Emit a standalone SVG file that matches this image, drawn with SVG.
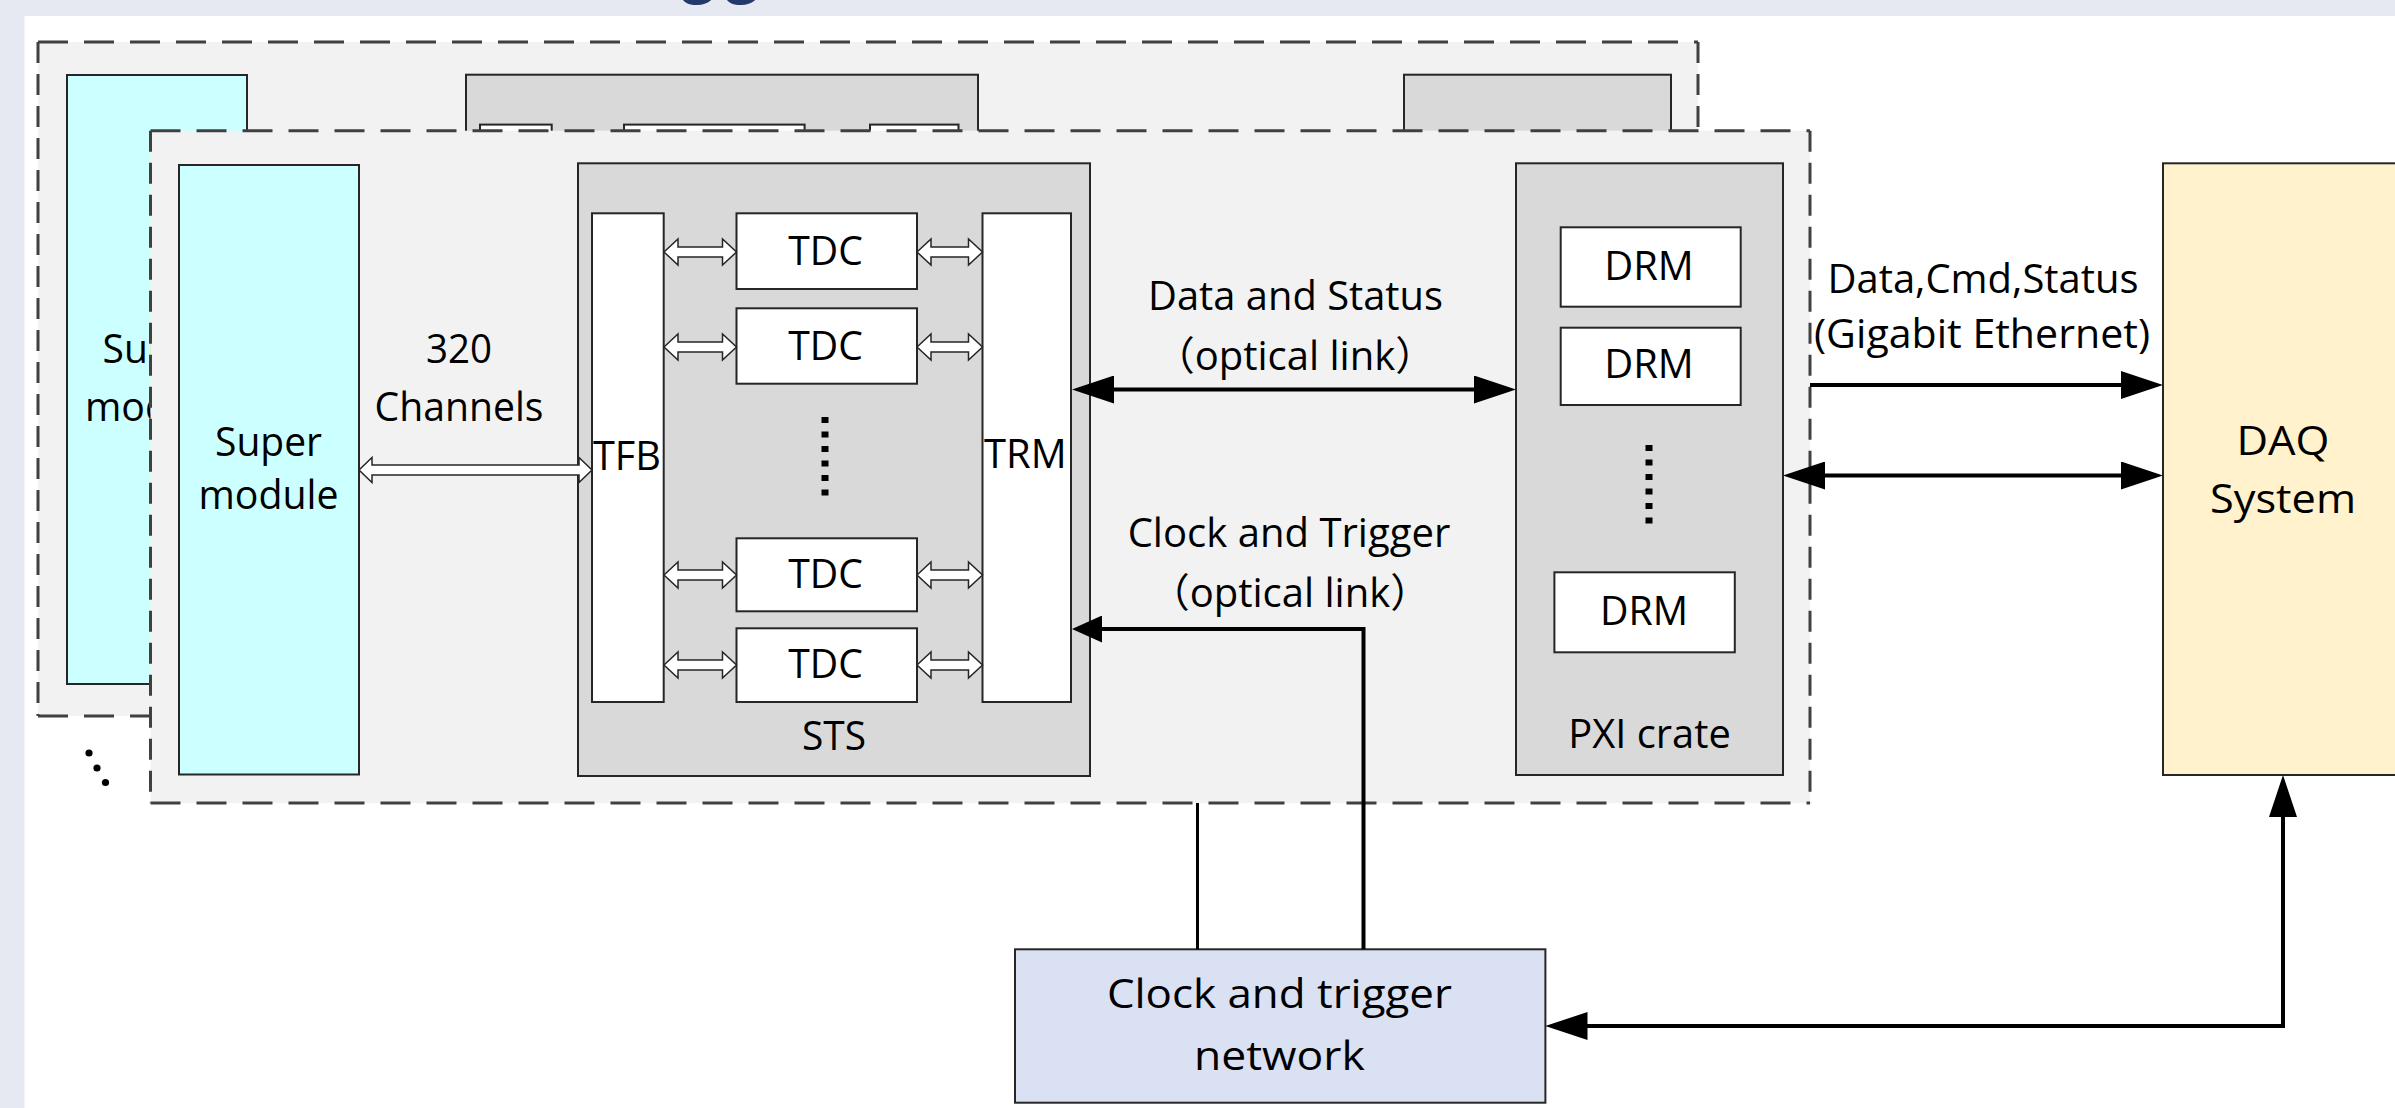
<svg xmlns="http://www.w3.org/2000/svg" width="2395" height="1108" viewBox="0 0 2395 1108">
<style>
.t{font-family:"Open Sans","Noto Sans CJK SC",sans-serif;font-size:40px;fill:#000;text-anchor:middle}
.b{stroke:#262626;stroke-width:2}
.cyan{fill:#CCFFFF}
.grey{fill:#D9D9D9}
.white{fill:#FFFFFF}
.panel{fill:#F2F2F2}
.dh{stroke:#404040;stroke-width:3;stroke-dasharray:30 16;fill:none}
.dv{stroke:#404040;stroke-width:3;stroke-dasharray:21 11;fill:none}
.hollow{fill:#fff;stroke:#262626;stroke-width:1.5}
.ln{fill:none;stroke:#000;stroke-width:4}
.ln3{fill:none;stroke:#000;stroke-width:3}
.dots{stroke:#000;stroke-width:7;stroke-dasharray:6 8.5;fill:none}
</style>
<defs>
<marker id="ah" markerUnits="userSpaceOnUse" markerWidth="42" markerHeight="28" viewBox="0 0 42 28" refX="32" refY="14" orient="auto-start-reverse"><path d="M0,0 L42,14 L0,28 Z" fill="#000"/></marker>
<marker id="ahs" markerUnits="userSpaceOnUse" markerWidth="30" markerHeight="27" viewBox="0 0 30 27" refX="20" refY="13.5" orient="auto-start-reverse"><path d="M0,0 L30,13.5 L0,27 Z" fill="#000"/></marker>
<path id="hsA" d="M0,0 L14,-13 L14,-5 L58.5,-5 L58.5,-13 L72.5,0 L58.5,13 L58.5,5 L14,5 L14,13 Z"/>
<path id="hsB" d="M0,0 L14,-13 L14,-5 L51.5,-5 L51.5,-13 L65.5,0 L51.5,13 L51.5,5 L14,5 L14,13 Z"/>
</defs>

<!-- page background -->
<rect x="0" y="0" width="2395" height="1108" fill="#E6E9F2"/>
<rect x="24.5" y="16" width="2371" height="1092" fill="#FFFFFF"/>
<text x="676" y="-10" font-family="Liberation Sans, sans-serif" font-weight="bold" font-size="72" fill="#23386B">gg</text>

<!-- back panel -->
<g id="back-panel">
  <rect x="38" y="42" width="1660" height="674" class="panel"/>
  <path class="dh" d="M38,42 H1698 M38,716 H1698"/>
  <path class="dv" d="M38,42 V716 M1698,42 V716"/>
  <g id="back-supermodule">
    <rect x="67" y="75" width="180" height="609" class="cyan b"/>
    <text class="t" x="156" y="363" textLength="107" lengthAdjust="spacingAndGlyphs">Super</text>
    <text class="t" x="155" y="421" textLength="140" lengthAdjust="spacingAndGlyphs">module</text>
  </g>
  <g id="back-sts">
    <rect x="466" y="74.7" width="512" height="613" class="grey b"/>
    <rect x="480" y="124.6" width="71.7" height="488.7" class="white b"/>
    <rect x="624" y="124.6" width="180.6" height="75.7" class="white b"/>
    <rect x="870" y="124.6" width="88.5" height="488.7" class="white b"/>
  </g>
  <g id="back-pxi">
    <rect x="1404" y="74.7" width="267" height="612" class="grey b"/>
  </g>
</g>
<g id="more-dots" fill="#000">
  <circle cx="89" cy="753" r="3.6"/>
  <circle cx="97" cy="768" r="3.6"/>
  <circle cx="105.5" cy="782.5" r="3.6"/>
</g>

<!-- front panel -->
<g id="front-panel">
  <rect x="150.5" y="130.7" width="1659.5" height="672.3" class="panel"/>
  <path class="dh" d="M150.5,130.7 H1810 M150.5,803 H1810"/>
  <path class="dv" d="M150.5,130.7 V803 M1810,130.7 V803"/>
</g>

<g id="supermodule">
  <rect x="179" y="165" width="180" height="609.5" class="cyan b"/>
  <text class="t" x="268.5" y="456" textLength="107" lengthAdjust="spacingAndGlyphs">Super</text>
  <text class="t" x="268.5" y="509" textLength="140" lengthAdjust="spacingAndGlyphs">module</text>
</g>

<g id="sts">
  <rect x="578" y="163.3" width="512" height="612.7" class="grey b"/>
  <text class="t" x="834" y="750" textLength="64" lengthAdjust="spacingAndGlyphs">STS</text>
</g>
<g id="tfb">
  <rect x="592" y="213.3" width="71.7" height="488.7" class="white b"/>
  <text class="t" x="627" y="470" textLength="68" lengthAdjust="spacingAndGlyphs">TFB</text>
</g>
<g id="trm">
  <rect x="982.5" y="213.3" width="88.5" height="488.7" class="white b"/>
  <text class="t" x="1025.3" y="468" textLength="82.6" lengthAdjust="spacingAndGlyphs">TRM</text>
</g>
<g id="tdc1">
  <rect x="736.5" y="213.3" width="180.5" height="75.7" class="white b"/>
  <text class="t" x="825.5" y="265" textLength="74.6" lengthAdjust="spacingAndGlyphs">TDC</text>
</g>
<g id="tdc2">
  <rect x="736.5" y="308.3" width="180.5" height="75.4" class="white b"/>
  <text class="t" x="825.5" y="359.5" textLength="74.6" lengthAdjust="spacingAndGlyphs">TDC</text>
</g>
<g id="tdc3">
  <rect x="736.5" y="538.3" width="180.5" height="73" class="white b"/>
  <text class="t" x="825.5" y="588" textLength="74.6" lengthAdjust="spacingAndGlyphs">TDC</text>
</g>
<g id="tdc4">
  <rect x="736.5" y="628.3" width="180.5" height="73.7" class="white b"/>
  <text class="t" x="825.5" y="677.5" textLength="74.6" lengthAdjust="spacingAndGlyphs">TDC</text>
</g>
<path id="tdc-dots" class="dots" d="M825,417 V499"/>

<g id="pxi-crate">
  <rect x="1516" y="163.3" width="267" height="611.7" class="grey b"/>
  <text class="t" x="1649.5" y="747.7" textLength="162.5" lengthAdjust="spacingAndGlyphs">PXI crate</text>
</g>
<g id="drm1">
  <rect x="1560.7" y="227.3" width="180" height="79.4" class="white b"/>
  <text class="t" x="1649" y="280" textLength="89.6" lengthAdjust="spacingAndGlyphs">DRM</text>
</g>
<g id="drm2">
  <rect x="1560.7" y="327.7" width="180" height="77.3" class="white b"/>
  <text class="t" x="1649" y="378.3" textLength="89.6" lengthAdjust="spacingAndGlyphs">DRM</text>
</g>
<g id="drm3">
  <rect x="1554.4" y="572.3" width="180.4" height="80" class="white b"/>
  <text class="t" x="1644" y="625" textLength="88" lengthAdjust="spacingAndGlyphs">DRM</text>
</g>
<path id="drm-dots" class="dots" d="M1649,445 V529"/>

<g id="daq">
  <rect x="2163" y="163.3" width="260" height="611.7" fill="#FFF2CC" class="b"/>
  <text class="t" x="2283" y="455" textLength="93" lengthAdjust="spacingAndGlyphs">DAQ</text>
  <text class="t" x="2283" y="513" textLength="146" lengthAdjust="spacingAndGlyphs">System</text>
</g>

<g id="clock-network">
  <rect x="1015" y="949.3" width="530.4" height="153.4" fill="#DAE1F3" class="b"/>
  <text class="t" x="1279.4" y="1008" textLength="345" lengthAdjust="spacingAndGlyphs">Clock and trigger</text>
  <text class="t" x="1279.4" y="1070" textLength="171" lengthAdjust="spacingAndGlyphs">network</text>
</g>

<!-- connectors -->
<g id="connectors">
  <path class="hollow" d="M359,470 L372,457.5 L372,465 L579,465 L579,457.5 L592,470 L579,482.5 L579,475 L372,475 L372,482.5 Z"/>
  <use href="#hsA" class="hollow" x="664" y="252"/>
  <use href="#hsA" class="hollow" x="664" y="347"/>
  <use href="#hsA" class="hollow" x="664" y="575"/>
  <use href="#hsA" class="hollow" x="664" y="665"/>
  <use href="#hsB" class="hollow" x="917" y="252"/>
  <use href="#hsB" class="hollow" x="917" y="347"/>
  <use href="#hsB" class="hollow" x="917" y="575"/>
  <use href="#hsB" class="hollow" x="917" y="665"/>

  <path class="ln" d="M1082,389.5 H1506" marker-start="url(#ah)" marker-end="url(#ah)"/>
  <path class="ln" d="M1363.5,949.3 V629 H1082" marker-end="url(#ahs)"/>
  <path class="ln3" d="M1197.5,803 V949.3"/>
  <path class="ln" d="M1810,385 H2153" marker-end="url(#ah)"/>
  <path class="ln" d="M1793,475.5 H2153" marker-start="url(#ah)" marker-end="url(#ah)"/>
  <path class="ln" d="M2283,785 V1026 H1555.5" marker-start="url(#ah)" marker-end="url(#ah)"/>
</g>

<!-- labels -->
<g id="labels">
  <text class="t" x="459" y="363" textLength="66" lengthAdjust="spacingAndGlyphs">320</text>
  <text class="t" x="459" y="421" textLength="169" lengthAdjust="spacingAndGlyphs">Channels</text>
  <text class="t" x="1295.5" y="310" textLength="295" lengthAdjust="spacingAndGlyphs">Data and Status</text>
  <text class="t" x="1295" y="370">（optical link）</text>
  <text class="t" x="1289" y="546.7" textLength="322.7" lengthAdjust="spacingAndGlyphs">Clock and Trigger</text>
  <text class="t" x="1290" y="606.7">（optical link）</text>
  <text class="t" x="1983" y="293.3" textLength="311" lengthAdjust="spacingAndGlyphs">Data,Cmd,Status</text>
  <text class="t" x="1982" y="348.3" textLength="336" lengthAdjust="spacingAndGlyphs">(Gigabit Ethernet)</text>
</g>
</svg>
